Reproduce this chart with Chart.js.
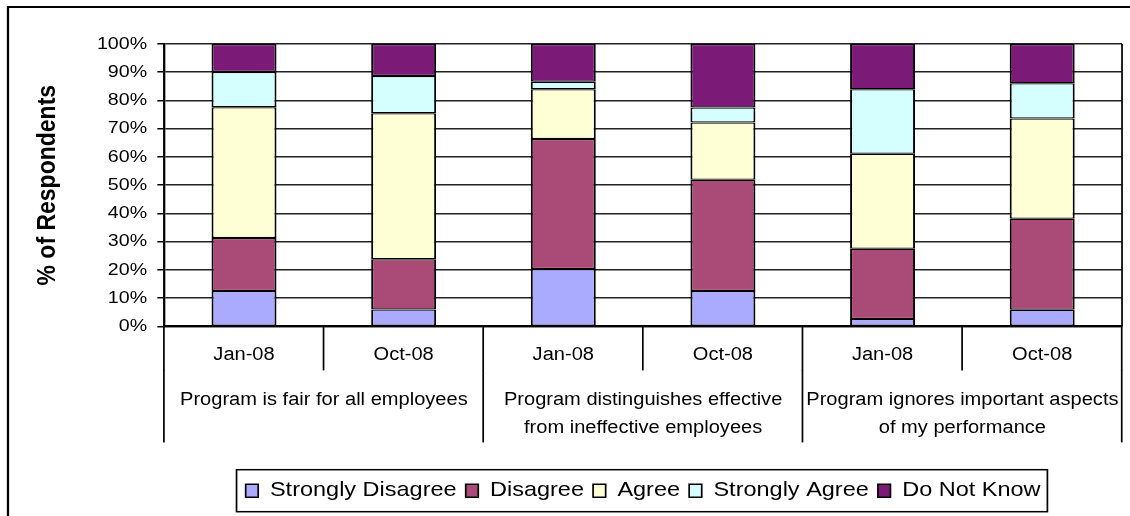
<!DOCTYPE html>
<html>
<head>
<meta charset="utf-8">
<title>Performance program survey</title>
<script src="https://cdn.jsdelivr.net/npm/chart.js@4/dist/chart.umd.min.js"></script>
<style>
  html, body { margin: 0; padding: 0; background: #fff; overflow: hidden; }
  canvas { display: block; }
</style>
</head>
<body>
<canvas id="survey" width="991" height="516"></canvas>
<script>
// Survey waves under each statement
const categories = ['Jan-08', 'Oct-08', 'Jan-08', 'Oct-08', 'Jan-08', 'Oct-08'];
// Statements, one per pair of waves
const statements = [
  ['Program is fair for all employees'],
  ['Program distinguishes effective', 'from ineffective employees'],
  ['Program ignores important aspects', 'of my performance']
];
// Share of respondents (%) per answer
const stronglyDisagree = [12.5, 6.0, 20.3, 12.5, 2.6, 5.9];
const disagree         = [18.8, 17.8, 46.1, 39.4, 24.9, 32.2];
const agree            = [46.3, 51.7, 17.6, 20.3, 33.6, 35.5];
const stronglyAgree    = [12.5, 13.2, 2.6, 5.3, 22.9, 12.5];
const doNotKnow        = [9.9, 11.3, 13.4, 22.5, 16.0, 13.9];
// Value axis
const yMin = 0, yMax = 100, yStep = 10;
const yTitle = '% of Respondents';

const FONT = "'Liberation Sans', Arial, sans-serif";
Chart.defaults.font.family = FONT;
Chart.defaults.color = '#000';

const segBorder = { top: 1.25, right: 1.75, bottom: 1.25, left: 1.75 };
function series(label, data, color) {
  return {
    label, data,
    backgroundColor: color,
    borderColor: '#000',
    borderWidth: segBorder,
    borderSkipped: false,
    categoryPercentage: 1,
    barPercentage: 0.407
  };
}

// Text in the original is set wide; the drawing is widened horizontally
// onto the full-width bitmap.
const widen = {
  id: 'widen',
  beforeDraw(chart) {
    chart.ctx.setTransform(chart.canvas.width / chart.width, 0, 0, 1, 0, 0);
  }
};

// Outer frame, right edge of the plot, and the box round the legend
const frames = {
  id: 'frames',
  afterDraw(chart) {
    const ctx = chart.ctx;
    const a = chart.chartArea;
    ctx.save();
    ctx.strokeStyle = '#000';
    ctx.lineWidth = 2;
    ctx.strokeRect(7, 7, 2000, 2000);

    ctx.lineWidth = 1.5;
    ctx.beginPath();
    ctx.moveTo(a.right, a.top);
    ctx.lineTo(a.right, a.bottom);
    ctx.stroke();

    const hb = chart.legend.legendHitBoxes;
    if (hb && hb.length) {
      const l = Math.min(...hb.map(h => h.left)) - 8;
      const r = Math.max(...hb.map(h => h.left + h.width)) + 6;
      const cy = hb[0].top + hb[0].height / 2;
      ctx.lineWidth = 1.5;
      ctx.strokeRect(l, cy - 21, r - l, 42);
    }
    ctx.restore();
  }
};

const canvas = document.getElementById('survey');
const chart = new Chart(canvas, {
  type: 'bar',
  data: {
    labels: categories,
    datasets: [
      series('Strongly Disagree', stronglyDisagree, '#AAAAFF'),
      series('Disagree', disagree, '#AA4A77'),
      series('Agree', agree, '#FFFFD5'),
      series('Strongly Agree', stronglyAgree, '#D5FFFF'),
      series('Do Not Know', doNotKnow, '#7B1B77')
    ]
  },
  options: {
    responsive: false,
    animation: false,
    devicePixelRatio: 1,
    layout: { padding: { top: 44, right: 7, bottom: 5, left: 0 } },
    plugins: {
      tooltip: { enabled: false },
      title: { display: false },
      legend: {
        position: 'bottom',
        fullSize: false,
        labels: {
          font: { size: 20.6 },
          boxWidth: 11,
          boxHeight: 13,
          padding: 8,
          color: '#000'
        }
      }
    },
    scales: {
      x: {
        type: 'category',
        stacked: true,
        position: 'bottom',
        weight: 1,
        offset: true,
        grid: {
          offset: true,
          drawOnChartArea: false,
          drawTicks: true,
          tickLength: 44,
          color: '#000',
          lineWidth: 1.5
        },
        border: { display: true, color: '#000', width: 2 },
        ticks: {
          font: { size: 17.6 },
          padding: -26,
          autoSkip: false,
          maxRotation: 0,
          minRotation: 0,
          color: '#000'
        },
        afterFit(s) { s.height = 44; }
      },
      x2: {
        type: 'category',
        labels: statements,
        position: 'bottom',
        weight: 2,
        offset: true,
        grid: {
          offset: true,
          drawOnChartArea: false,
          drawTicks: true,
          tickLength: 72,
          color: '#000',
          lineWidth: 1.5
        },
        border: { display: false },
        ticks: {
          font: { size: 17.6, lineHeight: 28 / 17.6 },
          padding: -56,
          autoSkip: false,
          maxRotation: 0,
          minRotation: 0,
          color: '#000'
        },
        afterFit(s) { s.height = 102; }
      },
      y: {
        stacked: true,
        min: yMin,
        max: yMax,
        ticks: {
          stepSize: yStep,
          font: { size: 17.2 },
          padding: 9,
          color: '#000',
          callback: v => v + '%'
        },
        grid: {
          color: '#222',
          lineWidth: 1.5,
          drawTicks: true,
          tickLength: 6,
          tickColor: '#000'
        },
        border: { display: true, color: '#000', width: 2 },
        title: {
          display: true,
          text: yTitle,
          font: { size: 23, weight: 'bold' },
          color: '#000',
          padding: { top: 28, bottom: 0 }
        },
        afterFit(s) { s.width = 144; }
      }
    }
  },
  plugins: [widen, frames]
});

// Widen the bitmap to the page width and redraw through the stretch transform
canvas.width = 1130;
canvas.height = 516;
canvas.style.width = '1130px';
canvas.style.height = '516px';
chart.draw();
</script>
</body>
</html>
